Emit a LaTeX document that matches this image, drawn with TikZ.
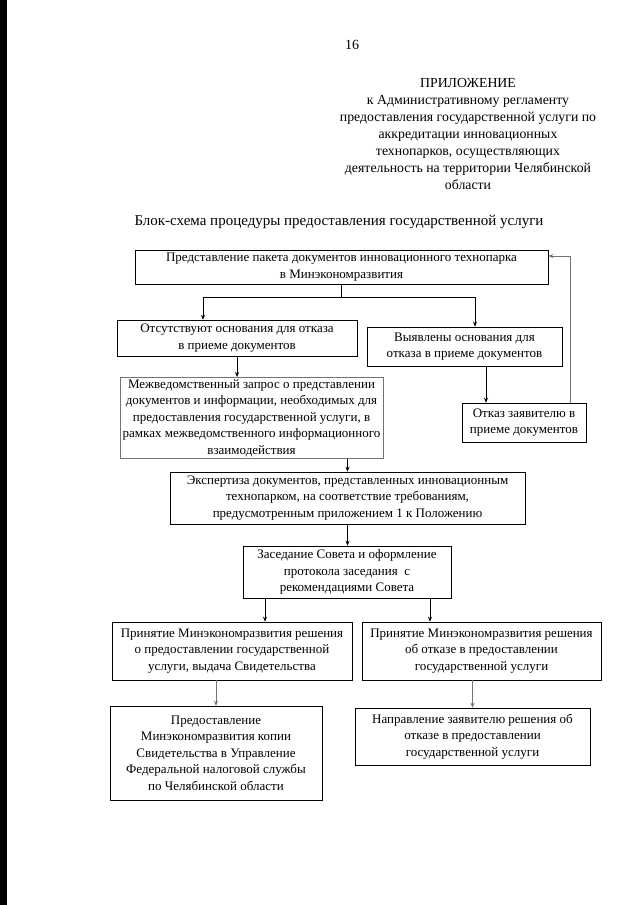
\documentclass[tikz,border=0pt]{standalone}
\usepackage{fontspec}
\setmainfont{Liberation Serif}
\usetikzlibrary{arrows.meta,calc}
\colorlet{seryj}{black!55}
\tikzset{blok/.style={draw,line width=0.6pt,align=center,inner sep=2pt,font=\fontsize{13}{16.5}\selectfont},
  strelka/.style={-{Stealth[length=5pt,width=4pt]},line width=0.6pt}}

\begin{document}
\begin{tikzpicture}[x=1pt,y=-1pt]
  \useasboundingbox (0,0) rectangle (640,905);
  % край скана
  \fill[black] (0,0) rectangle (7,905);

  % шапка
  \node[font=\fontsize{14}{17}\selectfont] (nomer) at (352,45) {16};
  \node[align=center,font=\fontsize{13.8}{17}\selectfont] (prilozh) at (468,134) {ПРИЛОЖЕНИЕ\\
    к Административному регламенту\\
    предоставления государственной услуги по\\
    аккредитации инновационных\\
    технопарков, осуществляющих\\
    деятельность на территории Челябинской\\
    области};
  \node[font=\fontsize{15}{17}\selectfont] (zagol) at (339,222) {Блок-схема процедуры предоставления государственной услуги};

  % блоки
  \node[blok,minimum width=413pt,minimum height=34pt] (paket) at (341.5,267)
    {Представление пакета документов инновационного технопарка\\в Минэкономразвития};
  \node[blok,minimum width=240pt,minimum height=36pt] (otsut) at (237,338)
    {Отсутствуют основания для отказа\\в приеме документов};
  \node[blok,minimum width=195pt,minimum height=39pt] (vyyav) at (464.5,346.5)
    {Выявлены основания для\\отказа в приеме документов};
  \node[blok,minimum width=124pt,minimum height=39pt] (otkaz) at (524,422.5)
    {Отказ заявителю в\\приеме документов};
  \node[blok,draw=seryj,minimum width=263pt,minimum height=80pt] (mezhved) at (251.5,418)
    {Межведомственный запрос о представлении\\документов и информации, необходимых для\\
     предоставления государственной услуги, в\\рамках межведомственного информационного\\взаимодействия};
  \node[blok,minimum width=355pt,minimum height=52pt] (ekspert) at (347.5,498)
    {Экспертиза документов, представленных инновационным\\технопарком, на соответствие требованиям,\\
     предусмотренным приложением 1 к Положению};
  \node[blok,minimum width=208pt,minimum height=52pt] (soviet) at (347,572)
    {Заседание Совета и оформление\\протокола заседания \ с\\рекомендациями Совета};
  \node[blok,minimum width=240pt,minimum height=58pt] (reshDa) at (232,651)
    {Принятие Минэкономразвития решения\\о предоставлении государственной\\услуги, выдача Свидетельства};
  \node[blok,minimum width=239pt,minimum height=58pt] (reshNet) at (481.5,651)
    {Принятие Минэкономразвития решения\\об отказе в предоставлении\\государственной услуги};
  \node[blok,minimum width=212pt,minimum height=94pt] (kopiya) at (216,753)
    {Предоставление\\Минэкономразвития копии\\Свидетельства в Управление\\
     Федеральной налоговой службы\\по Челябинской области};
  \node[blok,minimum width=235pt,minimum height=57pt] (naprav) at (472.5,736.5)
    {Направление заявителю решения об\\отказе в предоставлении\\государственной услуги};

  % развилка после подачи пакета
  \coordinate (razvL) at (203,297);
  \coordinate (razvR) at (475,297);
  \draw[line width=0.6pt] (paket.south) -- (paket.south |- razvL);
  \draw[line width=0.6pt] (razvL) -- (razvR);
  \draw[strelka] (razvL) -- (razvL |- otsut.north);
  \draw[strelka] (razvR) -- (razvR |- vyyav.north);

  % ветка отказа и возврат
  \draw[strelka] ([xshift=21.5pt]vyyav.south) -- ([xshift=21.5pt]vyyav.south |- otkaz.north);
  \draw[strelka,seryj] ([xshift=46pt]otkaz.north) |- ([yshift=11pt]paket.east);

  % основная ветка
  \draw[strelka] (otsut.south) -- (otsut.south |- mezhved.north);
  \draw[strelka] (ekspert.north |- mezhved.south) -- (ekspert.north);
  \draw[strelka] (ekspert.south) -- (ekspert.south |- soviet.north);
  \draw[strelka] ([xshift=-82pt]soviet.south) -- ([xshift=-82pt]soviet.south |- reshDa.north);
  \draw[strelka] ([xshift=83pt]soviet.south) -- ([xshift=83pt]soviet.south |- reshNet.north);
  \draw[strelka,seryj] (kopiya.north |- reshDa.south) -- (kopiya.north);
  \draw[strelka,seryj] (naprav.north |- reshNet.south) -- (naprav.north);
\end{tikzpicture}
\end{document}
